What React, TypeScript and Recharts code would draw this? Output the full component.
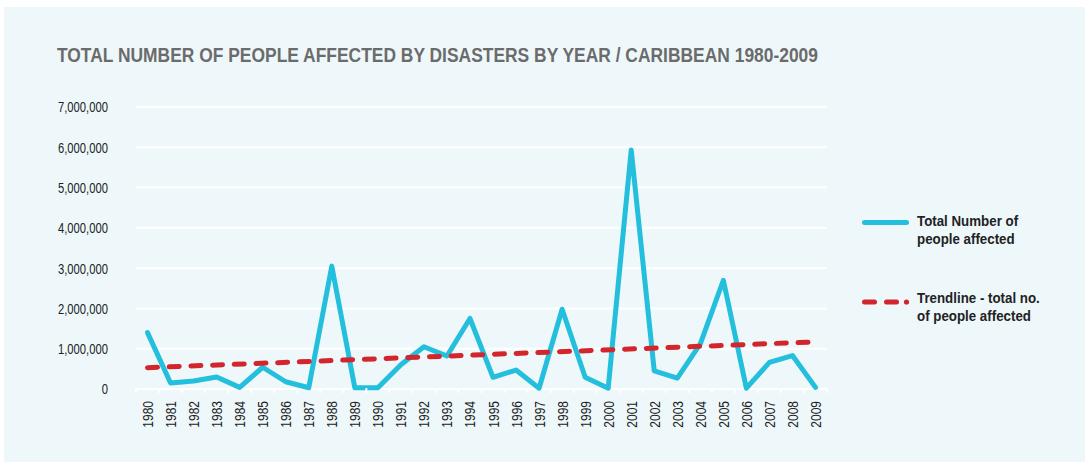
import React from 'react';
import { LineChart, Line, XAxis, YAxis, CartesianGrid } from 'recharts';

const years = [
  '1980', '1981', '1982', '1983', '1984', '1985', '1986', '1987', '1988', '1989',
  '1990', '1991', '1992', '1993', '1994', '1995', '1996', '1997', '1998', '1999',
  '2000', '2001', '2002', '2003', '2004', '2005', '2006', '2007', '2008', '2009',
];

const affected = [
  1400000, 150000, 200000, 300000, 40000, 540000, 180000, 30000, 3050000, 30000,
  30000, 600000, 1050000, 820000, 1750000, 290000, 470000, 20000, 1980000, 290000,
  20000, 5930000, 450000, 270000, 1120000, 2700000, 20000, 660000, 830000, 40000,
];

// trendline end points (straight line, connected across the gap)
const trendStart = 530000;
const trendEnd = 1170000;

const yTicks = [0, 1000000, 2000000, 3000000, 4000000, 5000000, 6000000, 7000000];

const CYAN = '#23bfdc';
const RED = '#d3262c';
// no condensed font installed: Liberation Sans squeezed horizontally instead
const FONT = '"Liberation Sans", Arial, sans-serif';

const rows = years.map((year, i) => ({
  year,
  affected: affected[i],
  trend: i === 0 ? trendStart : i === years.length - 1 ? trendEnd : null,
}));

const PLOT_W = 691;
const HALF_STEP = PLOT_W / years.length / 2;

const YearTick = (props: any) => {
  const { x, y, payload, index } = props;
  return (
    <g>
      <line x1={x - HALF_STEP} x2={x - HALF_STEP} y1={y - 1} y2={y + 4} stroke="#fff" strokeWidth={2} />
      {index === years.length - 1 && (
        <line x1={x + HALF_STEP} x2={x + HALF_STEP} y1={y - 1} y2={y + 4} stroke="#fff" strokeWidth={2} />
      )}
      <text
        transform={`translate(${x + 5.5},${y + 12}) rotate(-90) scale(0.8,1)`}
        textAnchor="end"
        fontSize={15}
        fill="#222"
        fontFamily={FONT}
      >
        {payload.value}
      </text>
    </g>
  );
};

const ValueTick = (props: any) => {
  const { x, y, payload } = props;
  return (
    <text
      transform={`translate(${x},${y}) scale(0.75,1)`}
      dy="0.36em"
      textAnchor="end"
      fontSize={15}
      fill="#222"
      fontFamily={FONT}
    >
      {Number(payload.value).toLocaleString('en-US')}
    </text>
  );
};

const LegendText = ({ x, y, children }: { x: number; y: number; children: React.ReactNode }) => (
  <text
    transform={`translate(${x},${y}) scale(0.86,1)`}
    fontSize={15.5}
    fontWeight="bold"
    fill="#222"
    fontFamily={FONT}
  >
    {children}
  </text>
);

const App: React.FC = () => {
  return (
    <div style={{ position: 'absolute', left: 0, top: 0, width: 1085, height: 462, background: '#fff' }}>
      <div style={{ position: 'absolute', left: 4, top: 7, width: 1081, height: 455, background: '#eef8fb' }} />
      <div style={{ position: 'absolute', left: 0, top: 0 }}>
        <LineChart width={1085} height={462} data={rows} margin={{ top: 107, right: 258, bottom: 28, left: 56 }}>
          <CartesianGrid vertical={false} stroke="#fff" strokeWidth={2} />
          <XAxis
            dataKey="year"
            interval={0}
            height={45}
            padding={{ left: HALF_STEP, right: HALF_STEP }}
            axisLine={false}
            tickLine={false}
            tickSize={0}
            tickMargin={0}
            tick={<YearTick />}
          />
          <YAxis
            width={80}
            domain={[0, 7000000]}
            ticks={yTicks}
            interval={0}
            axisLine={false}
            tickLine={false}
            tickSize={0}
            tickMargin={28}
            tick={<ValueTick />}
          />
          <Line
            dataKey="affected"
            type="linear"
            stroke={CYAN}
            strokeWidth={5}
            strokeLinejoin="round"
            strokeLinecap="round"
            dot={false}
            activeDot={false}
            isAnimationActive={false}
          />
          <Line
            dataKey="trend"
            type="linear"
            connectNulls
            stroke={RED}
            strokeWidth={5}
            strokeLinecap="round"
            strokeDasharray="10 11.7"
            dot={false}
            activeDot={false}
            isAnimationActive={false}
          />
        </LineChart>
      </div>
      <svg width={1085} height={462} style={{ position: 'absolute', left: 0, top: 0, pointerEvents: 'none' }}>
        <text
          x={57}
          y={62}
          fontSize={21}
          fontWeight="bold"
          fill="#6b6b6b"
          fontFamily={FONT}
          textLength={761}
          lengthAdjust="spacingAndGlyphs"
        >
          TOTAL NUMBER OF PEOPLE AFFECTED BY DISASTERS BY YEAR / CARIBBEAN 1980-2009
        </text>
        <line x1={864.5} x2={906.5} y1={222.5} y2={222.5} stroke={CYAN} strokeWidth={5} strokeLinecap="round" />
        <LegendText x={917} y={225.5}>Total Number of</LegendText>
        <LegendText x={917} y={243.5}>people affected</LegendText>
        <line x1={864.5} x2={874.5} y1={302} y2={302} stroke={RED} strokeWidth={5} strokeLinecap="round" />
        <line x1={886.5} x2={896.5} y1={302} y2={302} stroke={RED} strokeWidth={5} strokeLinecap="round" />
        <circle cx={906.5} cy={302} r={2.6} fill={RED} />
        <LegendText x={917} y={303}>Trendline - total no.</LegendText>
        <LegendText x={917} y={321}>of people affected</LegendText>
      </svg>
    </div>
  );
};

export default App;
